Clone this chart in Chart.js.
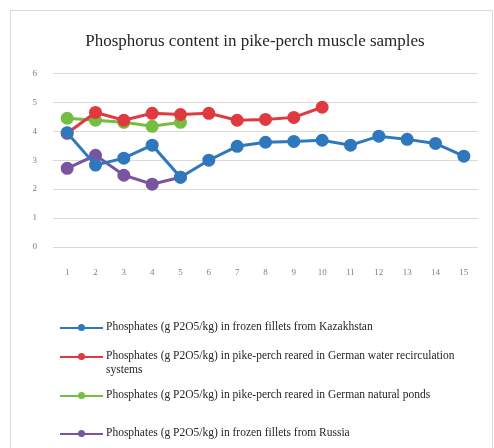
<!DOCTYPE html>
<html>
<head>
<meta charset="utf-8">
<script src="https://cdn.jsdelivr.net/npm/chart.js@4"></script>
<style>
  body { margin: 0; background: #fff; }
  #frame { position: absolute; left: 10px; top: 10px; width: 481px; height: 460px; border: 1px solid #d9d9d9; }
  #wrap { position: absolute; left: 0; top: 0; width: 494px; height: 290px; }
  #legend { position: absolute; left: 0; top: 0; width: 494px; height: 448px; pointer-events: none;
            font-family: "Liberation Serif", serif; font-size: 11.5px; color: #262626; }
  .item { position: absolute; left: 60px; }
  .sym { position: absolute; left: 0; width: 43px; height: 2px; }
  .dot { position: absolute; left: 18px; top: -3px; width: 7px; height: 7px; border-radius: 50%; }
  .txt { position: absolute; left: 46px; width: 352px; line-height: 14px; }
</style>
</head>
<body>
<div id="frame"></div>
<div id="wrap"><canvas id="chart" width="494" height="290"></canvas></div>
<div id="legend"></div>
<script>
  // Kategorier på x-axeln
  const categories = ['1', '2', '3', '4', '5', '6', '7', '8', '9', '10', '11', '12', '13', '14', '15'];

  // Serier
  const kazakhstan = [3.95, 2.83, 3.07, 3.52, 2.41, 3.0, 3.48, 3.62, 3.65, 3.69, 3.52, 3.83, 3.72, 3.58, 3.14];
  const recirculation = [3.93, 4.65, 4.38, 4.62, 4.58, 4.62, 4.38, 4.41, 4.48, 4.83];
  const naturalPonds = [4.45, 4.38, 4.31, 4.17, 4.31];
  const russia = [2.72, 3.17, 2.48, 2.17, 2.41];

  const seriesLabels = [
    'Phosphates (g P2O5/kg) in frozen fillets from Kazakhstan',
    'Phosphates (g P2O5/kg) in pike-perch reared in German water recirculation systems',
    'Phosphates (g P2O5/kg) in pike-perch reared in German natural ponds',
    'Phosphates (g P2O5/kg) in frozen fillets from Russia'
  ];
  const colors = ['#2f78bd', '#e0393f', '#76bd43', '#7a559f'];
  const legendRows = [327, 356, 395, 433]; // y-centrum för legendraderna

  const serif = '"Liberation Serif", serif';

  function makeSet(i, data) {
    return {
      label: seriesLabels[i],
      data: data,
      borderColor: colors[i],
      backgroundColor: colors[i],
      borderWidth: 3,
      pointRadius: 5,
      pointHoverRadius: 5,
      tension: 0,
      fill: false,
    };
  }

  const ctx = document.getElementById('chart').getContext('2d');
  const chart = new Chart(ctx, {
    type: 'line',
    data: {
      labels: categories,
      datasets: [
        makeSet(0, kazakhstan),
        makeSet(1, recirculation),
        makeSet(2, naturalPonds),
        makeSet(3, russia),
      ],
    },
    options: {
      responsive: false,
      animation: false,
      layout: { padding: { left: 32, right: 16, top: 0, bottom: 0 } },
      plugins: {
        legend: { display: false },
        tooltip: { enabled: false },
        title: {
          display: true,
          text: 'Phosphorus content in pike-perch muscle samples',
          color: '#262626',
          font: { family: serif, size: 17, weight: 'normal', lineHeight: 1.2 },
          padding: { top: 31, bottom: 22 },
        },
      },
      scales: {
        x: {
          offset: true,
          grid: { display: false },
          border: { display: false },
          ticks: { color: '#7f7f7f', font: { family: serif, size: 9 }, padding: 12, maxRotation: 0, autoSkip: false },
          afterFit: (s) => { s.height = 43; },
        },
        y: {
          min: 0,
          max: 6,
          ticks: { stepSize: 1, color: '#7f7f7f', font: { family: serif, size: 9 }, padding: 16 },
          grid: { color: '#d9d9d9', lineWidth: 1, drawTicks: false },
          border: { display: false },
          afterFit: (s) => { s.width = 21; },
        },
      },
    },
  });

  // Egen legend under grafen, en rad per serie
  const legend = document.getElementById('legend');
  chart.data.datasets.forEach((ds, i) => {
    const item = document.createElement('div');
    item.className = 'item';
    item.style.top = legendRows[i] + 'px';
    item.innerHTML =
      '<div class="sym" style="background:' + ds.borderColor + '"><div class="dot" style="background:' + ds.borderColor + '"></div></div>' +
      '<div class="txt" style="top:-8px">' + ds.label + '</div>';
    legend.appendChild(item);
  });
</script>
</body>
</html>
